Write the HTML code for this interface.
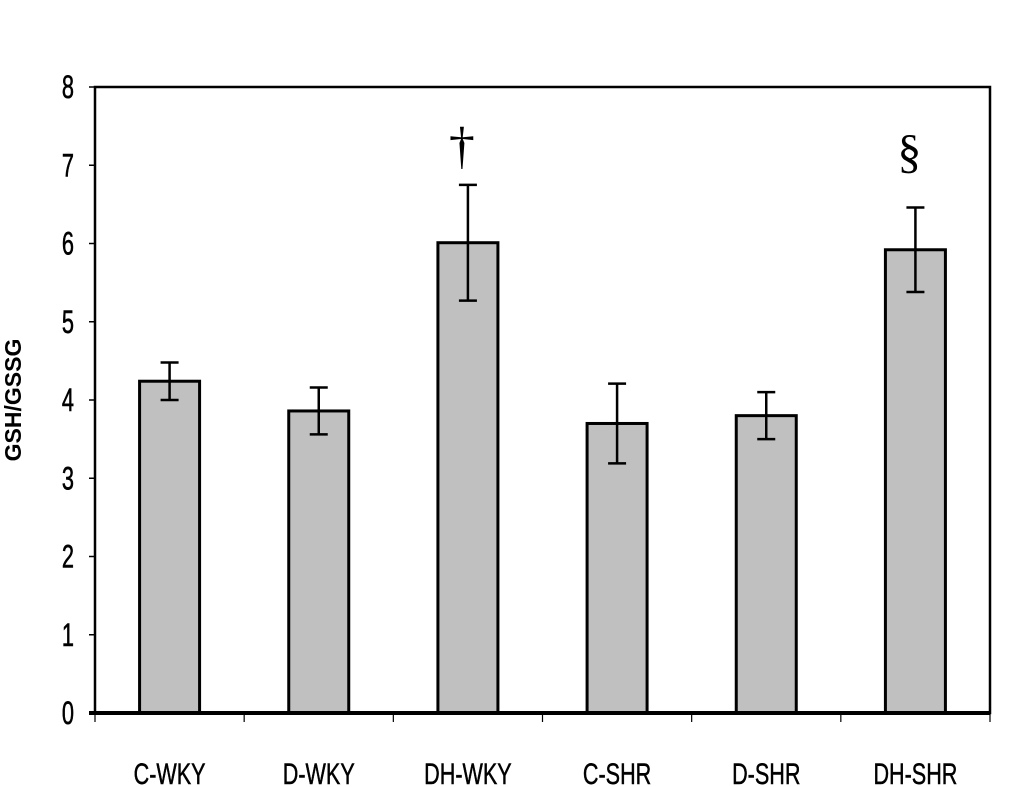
<!DOCTYPE html>
<html><head><meta charset="utf-8"><style>
body{margin:0;background:#fff;}
svg{display:block;}
</style></head><body>
<svg id="chart" width="1024" height="787" viewBox="0 0 1024 787" xmlns="http://www.w3.org/2000/svg">
<rect x="0" y="0" width="1024" height="787" fill="#fff"/>
<g id="plot"></g>
<text x="21" y="400" transform="rotate(-90 21 400)" text-anchor="middle" font-family="Liberation Sans, sans-serif" font-weight="bold" font-size="23">GSH/GSSG</text>
</svg>
<script>
const categories = ["C-WKY","D-WKY","DH-WKY","C-SHR","D-SHR","DH-SHR"];
const values = [4.24, 3.86, 6.01, 3.70, 3.80, 5.92];
const errors = [0.24, 0.30, 0.74, 0.51, 0.30, 0.54];
const markers = ["", "", "†", "", "", "§"];
const yTicks = [0,1,2,3,4,5,6,7,8];

const NS="http://www.w3.org/2000/svg";
const g=document.getElementById('plot');
const L=95,R=990,T=87,B=713,yMax=8;
const y=v=>B-(v/yMax)*(B-T);
const bw=(R-L)/categories.length;
const xc=i=>L+bw*(i+0.5);
function mk(tag,attrs){const e=document.createElementNS(NS,tag);for(const k in attrs)e.setAttribute(k,attrs[k]);g.appendChild(e);return e;}

const fr=mk('rect',{x:L,y:T,width:R-L,height:B-T,fill:'none',stroke:'#000','stroke-width':2.5});



yTicks.forEach(t=>{
  const tk=mk('line',{x1:L-6,x2:L,y1:y(t),y2:y(t),stroke:'#000','stroke-width':1.5});
  
  
  const tl=mk('text',{x:0,y:0,'text-anchor':'end','font-family':'Liberation Sans, sans-serif','font-size':32,stroke:'#000','stroke-width':0.6,transform:`translate(74 ${y(t)+11}) scale(0.68 1)`});
  tl.textContent=t;
  
  
});

for(let i=0;i<=categories.length;i++){
  const x=L+bw*i;
  const tk=mk('line',{x1:x,x2:x,y1:B,y2:B+9,stroke:'#000','stroke-width':1.2});
  
  
}

categories.forEach((c,i)=>{
  const bar=mk('rect',{x:xc(i)-30,y:y(values[i]),width:60,height:B-y(values[i]),fill:'#c0c0c0',stroke:'#000','stroke-width':3});
  
  
  const hi=y(values[i]+errors[i]),lo=y(values[i]-errors[i]);
  const eb=mk('path',{d:`M${xc(i)},${hi}V${lo}M${xc(i)-9},${hi}H${xc(i)+9}M${xc(i)-9},${lo}H${xc(i)+9}`,stroke:'#000','stroke-width':2.5,fill:'none'});
  
  
  const lb=mk('text',{x:0,y:0,'text-anchor':'middle','font-family':'Liberation Sans, sans-serif','font-size':30,stroke:'#000','stroke-width':0.5,transform:`translate(${xc(i)} 784) scale(0.72 1)`});
  lb.textContent=c;
  
  
  if(markers[i]){
    const gap = markers[i]==='§' ? 40 : 22;
    const m=mk('text',{x:xc(i)-6,y:hi-gap,'text-anchor':'middle','font-family':'Liberation Serif, serif','font-size':markers[i]==='§'?48:52});
    m.textContent=markers[i];
    
    
  }
});
// thicker baseline
const base=mk('line',{x1:L-6,x2:R,y1:B,y2:B,stroke:'#000','stroke-width':4});


</script>
</body></html>
